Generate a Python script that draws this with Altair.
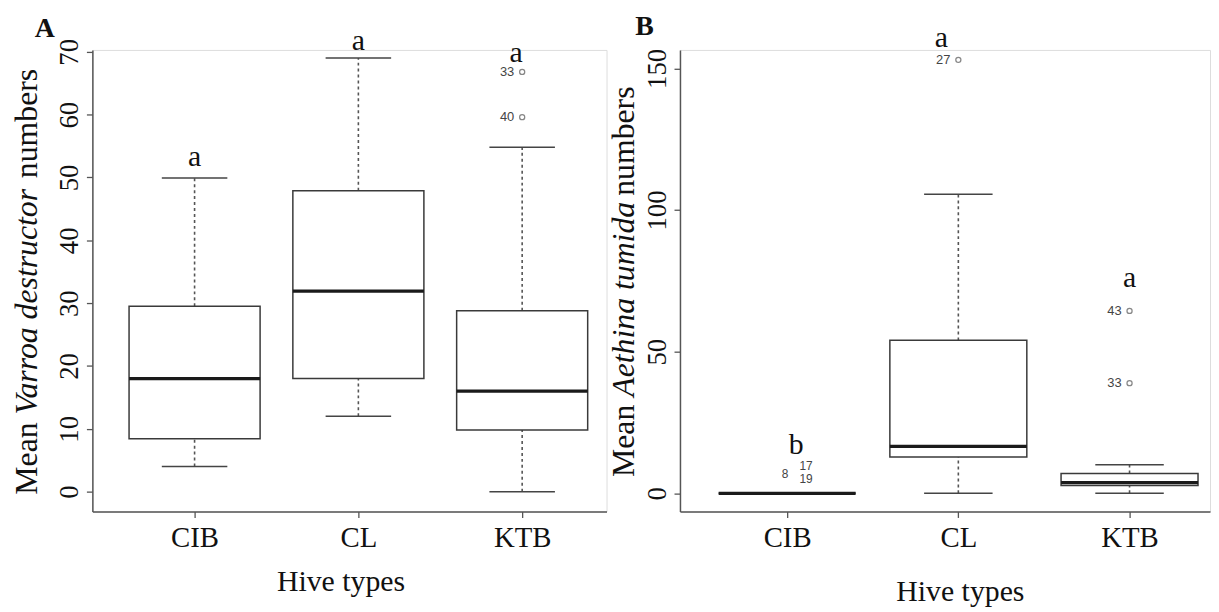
import altair as alt
import pandas as pd

# ---------------- data ----------------
hives = ["CIB", "CL", "KTB"]
hive_pos = [1, 2, 3]

# Panel A: Varroa destructor
a_lo = [4, 12, 0]
a_q1 = [8.4, 18, 9.8]
a_med = [18, 31.9, 16]
a_q3 = [29.5, 47.9, 28.8]
a_hi = [49.9, 69, 54.8]
a_out_hive = ["KTB", "KTB"]
a_out_val = [66.8, 59.6]
a_out_lab = ["33", "40"]
a_letters = ["a", "a", "a"]
a_letter_y = [51.8, 70.3, 68.4]

# Panel B: Aethina tumida
b_lo = [0, 0, 0]
b_q1 = [0, 12.8, 2.8]
b_med = [0, 16.6, 3.8]
b_q3 = [0, 54, 7.0]
b_hi = [0, 105.6, 10.1]
b_out_hive = ["CL", "KTB", "KTB"]
b_out_val = [153, 64.4, 38.9]
b_out_lab = ["27", "43", "33"]
b_cib_lab = ["8", "17", "19"]
b_cib_val = [6.9, 9.6, 5.2]
b_letters = ["b", "a", "a"]
b_letter_y = [13.8, 157.5, 72.8]

a_yticks = [0, 10, 20, 30, 40, 50, 60, 70]
b_yticks = [0, 50, 100, 150]

# ---------------- helpers ----------------
SERIF = "Liberation Serif"
SANS = "Liberation Sans"
pmap = dict(zip(hives, hive_pos))
label_expr = "[" + ",".join("'%s'" % h for h in hives) + "][datum.value-1]"

REG = {"M": 0.889, "e": 0.444, "a": 0.444, "n": 0.5, " ": 0.25, "u": 0.5,
       "m": 0.778, "b": 0.5, "r": 0.333, "s": 0.389}
ITA = {"V": 0.611, "a": 0.5, "r": 0.389, "o": 0.5, " ": 0.25, "d": 0.5, "e": 0.444,
       "s": 0.389, "t": 0.278, "u": 0.5, "c": 0.444, "A": 0.611, "h": 0.5,
       "i": 0.278, "n": 0.5, "m": 0.722}


def twidth(s, style, fs):
    tbl = ITA if style == "italic" else REG
    return sum(tbl.get(ch, 0.5) for ch in s) * fs


one = pd.DataFrame({"k": [0]})


def box_frame(lo, q1, med, q3, hi):
    return pd.DataFrame({"hive": hives, "pos": hive_pos, "lo": lo, "q1": q1,
                         "med": med, "q3": q3, "hi": hi})


def panel(box_df, out_df, let_df, let_dx, ydomain, yticks, xdomain, width, height,
          title_parts, title_x, panel_letter, letter_xy, xtitle_x, xtitle_y, extra=None):
    axis_common = dict(domainColor="#555", domainWidth=1.5, tickColor="#555", tickWidth=1.3,
                       tickSize=6, labelFont=SERIF, labelColor="#111", grid=False,
                       labelFlush=False, labelOverlap=False)
    xscale = alt.Scale(domain=xdomain, nice=False, zero=False)
    xaxis = alt.Axis(values=hive_pos, labelExpr=label_expr, labelFontSize=29,
                     labelPadding=6, labelBaseline="top", title="Hive types",
                     titleFont=SERIF, titleFontSize=30, titleFontWeight="normal",
                     titleColor="#111", titleBaseline="alphabetic",
                     titleX=xtitle_x, titleY=xtitle_y, titleAlign="center",
                     **axis_common)
    yscale = alt.Scale(domain=ydomain, nice=False, zero=False)
    yaxis = alt.Axis(values=yticks, labelAngle=270, labelAlign="center",
                     labelBaseline="bottom", labelFontSize=27, labelPadding=3,
                     title=None, **axis_common)

    def X(f):
        return alt.X(f, scale=xscale, axis=xaxis)

    def Y(f):
        return alt.Y(f, scale=yscale, axis=yaxis)

    base = alt.Chart(box_df).transform_calculate(
        box_l="datum.pos - 0.4", box_r="datum.pos + 0.4",
        cap_l="datum.pos - 0.2", cap_r="datum.pos + 0.2")

    whisk_up = base.mark_rule(color="#555", strokeWidth=1.6, strokeDash=[3, 3]).encode(
        x=X("pos:Q"), y=Y("q3:Q"), y2="hi:Q")
    whisk_dn = base.mark_rule(color="#555", strokeWidth=1.6, strokeDash=[3, 3]).encode(
        x=X("pos:Q"), y=Y("lo:Q"), y2="q1:Q")
    cap_up = base.mark_rule(color="#444", strokeWidth=1.5).encode(
        x=X("cap_l:Q"), x2="cap_r:Q", y=Y("hi:Q"))
    cap_dn = base.mark_rule(color="#444", strokeWidth=1.5).encode(
        x=X("cap_l:Q"), x2="cap_r:Q", y=Y("lo:Q"))
    boxes = base.mark_rect(fill="white", stroke="#3a3a3a", strokeWidth=1.5).encode(
        x=X("box_l:Q"), x2="box_r:Q", y=Y("q1:Q"), y2="q3:Q")
    medians = base.mark_rule(color="#1a1a1a", strokeWidth=3.2).encode(
        x=X("box_l:Q"), x2="box_r:Q", y=Y("med:Q"))

    pts = alt.Chart(out_df).mark_point(shape="circle", filled=False, size=26,
                                         color="#555", strokeWidth=1.3).encode(
        x=X("pos:Q"), y=Y("val:Q"))
    pt_lab = alt.Chart(out_df).mark_text(align="right", baseline="middle", dx=-8,
                                         font=SANS, fontSize=13, color="#444").encode(
        x=X("pos:Q"), y=Y("val:Q"), text="lab:N")

    layers = [whisk_up, whisk_dn, cap_up, cap_dn, boxes, medians, pts, pt_lab]

    for h, dx in zip(hives, let_dx):
        layers.append(alt.Chart(let_df).transform_filter(alt.datum.hive == h).mark_text(
            font=SERIF, fontSize=30, color="#111", baseline="alphabetic", dx=dx).encode(
            x=X("pos:Q"), y=Y("val:Q"), text="lab:N"))

    if extra is not None:
        layers.extend(extra(X, Y))

    # y-axis title with italic species name
    fs = 32
    gap = REG[" "] * fs
    widths = [twidth(t, s, fs) for t, s in title_parts]
    total = sum(widths) + gap * (len(widths) - 1)
    cur = height / 2 + total / 2
    for (t, s), w in zip(title_parts, widths):
        layers.append(alt.Chart(one).mark_text(
            angle=270, align="left", baseline="middle", font=SERIF, fontSize=fs,
            fontStyle=s, color="#111", text=t).encode(
            x=alt.value(title_x), y=alt.value(cur)))
        cur -= w + (gap * 0.75 if s == "italic" else gap)

    layers.append(alt.Chart(one).mark_text(
        align="left", baseline="alphabetic", font=SERIF, fontSize=28, fontWeight="bold",
        color="#111", text=panel_letter).encode(
        x=alt.value(letter_xy[0]), y=alt.value(letter_xy[1])))

    return alt.layer(*layers).properties(width=width, height=height)


# ---------------- panel A ----------------
a_box = box_frame(a_lo, a_q1, a_med, a_q3, a_hi)
a_out = pd.DataFrame({"pos": [pmap[h] for h in a_out_hive], "val": a_out_val, "lab": a_out_lab})
a_let = pd.DataFrame({"hive": hives, "pos": hive_pos, "val": a_letter_y, "lab": a_letters})

chartA = panel(a_box, a_out, a_let, [0, 0, -6], [-3.16, 70.3], a_yticks, [0.376, 3.515],
               518, 465,
               [("Mean", "normal"), ("Varroa destructor", "italic"), ("numbers", "normal")],
               -66, "A", (-58, -13), 250, 80)

# ---------------- panel B ----------------
b_box = box_frame(b_lo, b_q1, b_med, b_q3, b_hi)
b_out = pd.DataFrame({"pos": [pmap[h] for h in b_out_hive], "val": b_out_val, "lab": b_out_lab})
b_let = pd.DataFrame({"hive": hives, "pos": hive_pos, "val": b_letter_y, "lab": b_letters})
b_cib = pd.DataFrame({"pos": [pmap["CIB"]] * len(b_cib_lab), "val": b_cib_val, "lab": b_cib_lab})


def b_extra(X, Y):
    out = []
    for labs, dx in ((["8"], -2), (["17", "19"], 19)):
        out.append(alt.Chart(b_cib).transform_filter(
            alt.FieldOneOfPredicate(field="lab", oneOf=labs)).mark_text(
            align="center", baseline="middle", dx=dx, font=SANS, fontSize=12,
            color="#444").encode(x=X("pos:Q"), y=Y("val:Q"), text="lab:N"))
    return out


chartB = panel(b_box, b_out, b_let, [9, -17, 0], [-6.4, 156.5], b_yticks, [0.374, 3.47],
               534, 465,
               [("Mean", "normal"), ("Aethina tumida", "italic"), ("numbers", "normal")],
               -56, "B", (-45, -15), 282, 90, extra=b_extra)

chart = alt.hconcat(chartA, chartB, spacing=0).properties(
    padding={"left": 2, "top": 2, "right": 0, "bottom": 0}
).configure_view(stroke=None).configure(font=SERIF, background="white")

chart.save("out.html", embed_options={"renderer": "svg", "actions": False})
